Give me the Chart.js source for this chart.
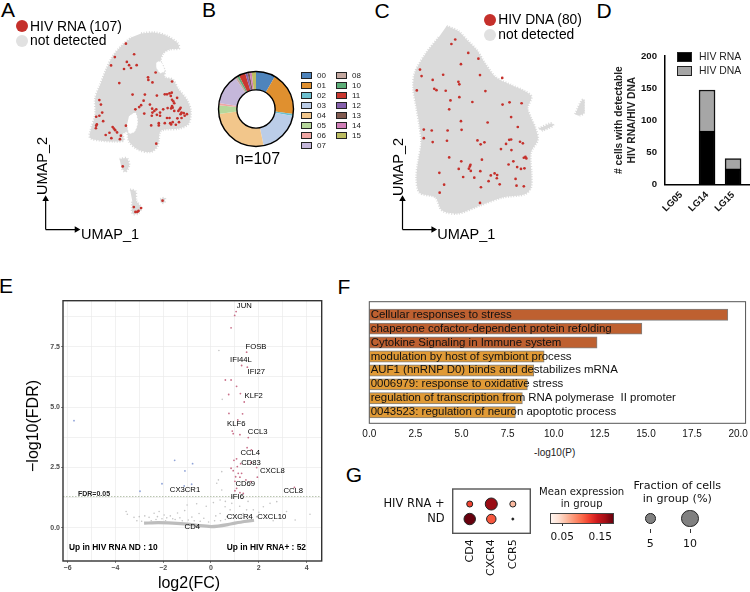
<!DOCTYPE html>
<html>
<head>
<meta charset="utf-8">
<title>HIV RNA / HIV DNA figure</title>
<script src="https://cdn.jsdelivr.net/npm/chart.js@4/dist/chart.umd.js"></script>
<style>
  html, body { margin: 0; padding: 0; background: #fff; }
  #page { position: relative; width: 750px; height: 592px; overflow: hidden; font-family: "Liberation Sans", Arial, sans-serif; color: #000; }
  canvas { position: absolute; }
  .t { position: absolute; white-space: pre; line-height: 1; }
  .box { position: absolute; box-sizing: border-box; }
</style>
</head>
<body>
<div id="page"></div>
<script>
// ---------- Panel A: UMAP (reading units, 3 per px) ----------
const cloudA = [[430,88],[470,85],[510,95],[545,118],[550,135],[520,138],[500,150],[492,175],[505,205],[505,225],[530,232],[548,262],[575,295],[587,330],[580,370],[550,385],[505,388],[490,395],[482,440],[460,458],[420,450],[392,425],[385,395],[372,402],[375,422],[345,425],[300,422],[270,415],[268,400],[285,340],[285,290],[300,250],[320,200],[340,160],[370,125],[400,100]];
const holesA = [[[478,178],[492,175],[505,205],[490,212],[478,195]], [[392,345],[412,335],[420,365],[410,395],[392,400],[385,375]]];
const islandsA = [[[362,480],[385,478],[392,500],[380,520],[368,508]], [[395,575],[412,580],[415,610],[430,632],[420,650],[403,650],[402,610]], [[490,605],[505,602],[503,616],[492,616]]];
const rnaCells = [[382,120],[408,153],[347,162],[335,188],[385,177],[376,199],[392,187],[398,196],[416,187],[476,210],[452,225],[453,233],[466,241],[361,243],[528,238],[403,279],[442,279],[298,296],[303,310],[307,335],[298,345],[288,348],[310,362],[290,372],[288,376],[287,384],[340,380],[344,385],[348,390],[382,376],[330,398],[318,405],[336,415],[354,397],[366,407],[363,418],[478,432],[372,503],[407,630],[430,633],[412,645],[418,645],[422,642],[498,610],[512,278],[520,275],[527,273],[480,282],[524,283],[528,295],[544,289],[532,300],[535,306],[528,315],[525,322],[514,321],[530,320],[555,320],[552,325],[548,330],[558,335],[565,337],[575,340],[555,340],[545,353],[558,352],[520,352],[512,352],[530,365],[525,372],[540,373],[505,368],[486,368],[486,375],[462,375],[500,325],[478,325],[465,323],[466,335],[490,335],[480,342],[490,345],[464,345],[438,298],[430,312],[424,318],[412,325],[440,338],[458,310],[505,278],[535,330],[568,345],[522,368],[550,365],[472,330]];

// ---------- Panel B: clusters ----------
const clusterNames = ["00","01","02","03","04","05","06","07","08","10","11","12","13","14","15"];
const clusterCounts = [9,20,1,20,28,4,1,14,1,1,3,1,1,1,2];
const clusterColors = ["#4E84BC","#E0902F","#6CBFCF","#BBCDE8","#F2C68B","#B6D79B","#EFA6A3","#C5B7DA","#C4A8A0","#5DAE78","#C9372F","#8560AC","#825B50","#D07FB8","#BDBD62"];

// ---------- Panel C: UMAP ----------
const cloudC = [[225,65],[260,80],[290,110],[320,140],[345,180],[380,225],[430,250],[470,268],[492,285],[480,320],[490,350],[505,385],[512,420],[490,460],[492,530],[490,570],[470,590],[400,600],[330,625],[260,650],[210,640],[190,600],[140,585],[130,540],[135,490],[145,430],[140,380],[130,320],[120,260],[125,210],[160,150],[200,100]];
const islandsC = [[[515,385],[555,368],[560,376],[525,392]], [[630,340],[650,298],[660,295],[660,335],[640,345]]];
const dnaCells = [[252,107],[240,121],[293,149],[325,167],[270,184],[141,201],[146,221],[214,217],[330,218],[400,227],[181,233],[262,239],[265,247],[131,266],[186,261],[193,265],[222,267],[347,268],[237,297],[265,287],[306,302],[401,310],[423,303],[461,306],[233,325],[428,349],[270,362],[354,366],[449,380],[153,388],[178,391],[228,391],[272,389],[153,415],[181,427],[226,423],[322,422],[332,434],[344,428],[422,420],[428,419],[412,433],[456,426],[465,431],[396,449],[429,452],[233,475],[271,487],[336,482],[468,476],[473,473],[476,478],[435,487],[420,497],[447,505],[459,511],[470,509],[300,498],[298,503],[295,510],[301,517],[263,511],[331,518],[202,523],[376,525],[364,531],[384,530],[277,536],[312,538],[357,549],[383,540],[442,542],[217,560],[392,559],[445,563],[468,565],[333,568],[203,585],[330,617]];

// ---------- Panel D: counts per donor ----------
const donors = ["LG05","LG14","LG15"];
const hivRnaCounts = [0,83,24];
const hivDnaCounts = [0,64,16];
const donorTicks = [0,50,100,150,200];

// ---------- Panel E: volcano ----------
const upGenes = [[1.05,8.95],[0.99,8.79],[0.84,8.28],[1.49,7.27],[1.28,6.72],[1.52,6.65],[0.60,6.12],[0.84,6.12],[1.07,5.86],[1.23,5.56],[0.74,5.52],[1.39,5.21],[0.75,4.74],[1.32,4.72],[1.12,4.47],[0.89,4.01],[0.93,3.90],[1.21,3.86],[1.56,3.74],[1.51,3.32],[1.69,3.23],[0.96,2.80],[1.07,2.86],[1.24,2.66],[1.67,2.70],[1.91,2.50],[0.84,2.47],[0.93,2.37],[1.10,2.54],[1.14,2.26],[1.28,2.26],[1.03,2.12],[1.21,2.10],[1.46,1.99],[1.67,1.92],[1.94,2.10],[1.00,1.93],[1.07,1.64],[1.00,1.54],[1.21,1.46],[1.35,1.43],[3.49,1.68]];
const downGenes = [[-5.73,4.44],[-2.97,1.52],[-2.05,1.83],[-1.52,2.80],[-0.77,2.66],[-1.09,2.36],[-1.12,1.74],[-0.81,1.81]];
const otherGenes = [[0.33,7.34],[0.47,5.32],[0.45,2.33],[0.31,1.99],[0.24,1.85],[0.45,1.57],[0.38,1.16],[0.59,0.88],[0.38,0.6],[0.80,0.75],[0.87,1.02],[1.49,0.75],[1.77,0.75],[2.19,0.88],[2.47,1.02],[2.75,1.09],[2.89,0.54],[3.52,0.33],[4.14,0.57],[3.16,0.68],[1.91,0.47],[1.35,0.6],[1.07,0.4],[0.66,0.47],[-3.55,0.68],[-3.50,0.57],[-3.22,0.44],[-3.00,0.47],[-2.77,0.5],[-2.59,0.44],[-2.38,0.61],[-2.17,0.68],[-2.24,0.47],[-1.96,0.54],[-1.7,0.5],[-1.4,0.62],[-1.1,0.72],[-0.8,0.45],[-0.5,0.6],[-0.2,0.9],[0.1,1.05],[-0.6,1.0],[-1.0,0.95],[-1.9,0.3],[-3.1,0.3],[-2.9,0.28],[0.2,0.5],[0.6,1.1],[1.55,1.1],[2.3,0.4],[2.6,0.3],[1.2,0.9],[0.9,0.55],[-1.5,0.35],[-0.3,0.4],[0.4,0.3],[-2.5,0.3],[-2.3,0.35],[-2.05,0.38],[-1.85,0.42],[-1.6,0.38],[-1.3,0.42],[-1.2,0.3],[-0.95,0.33],[-0.7,0.3],[-0.45,0.28],[-0.1,0.25],[0.15,0.3],[0.6,0.35],[0.95,0.42],[1.25,0.45],[1.6,0.5],[2.0,0.65]];
const nullBand = [[-2.8,0.2],[-2.2,0.22],[-1.6,0.2],[-1.0,0.16],[-0.5,0.1],[0,0.06],[0.3,0.08],[0.7,0.14],[1.0,0.2],[1.4,0.27],[1.8,0.32]];
const fdrCutoff = 1.3;
const volcanoXTicks = [-6,-5,-4,-3,-2,-1,0,1,2,3,4];
const volcanoYTicks = [0,1.25,2.5,3.75,5,6.25,7.5,8.75];

// ---------- Panel F: enrichment ----------
const termNames = ["Cellular responses to stress","chaperone cofactor-dependent protein refolding","Cytokine Signaling in Immune system","modulation by host of symbiont process","AUF1 (hnRNP D0) binds and destabilizes mRNA","0006979: response to oxidative stress","regulation of transcription from RNA polymerase  II promoter","0043523: regulation of neuron apoptotic process"];
const termLogP = [19.44,14.78,12.35,9.48,8.92,8.57,8.30,7.92];
const termColors = ["#BE6030","#BE6030","#BE6030","#E09A36","#E09A36","#E09A36","#E09A36","#E09A36"];
const logPTicks = [0,2.5,5,7.5,10,12.5,15,17.5,20];

// ---------- Panel G: dot plot ----------
const dotGenes = ["CD4","CXCR4","CCR5"];
const dotGroups = ["HIV RNA +","ND"];
const meanExpression = [[0.118,0.167,0.06],[0.184,0.11,0.018]];
const cellFraction = [[2.3,6.0,2.3],[5.6,4.3,0.5]];
const redsStops = [[255,245,240],[254,224,210],[252,187,161],[252,146,114],[251,106,74],[239,59,44],[203,24,29],[165,15,21],[103,0,13]];

// ---------- Helpers ----------
const page = document.getElementById("page");

function txt(str, x, y, o) {
  o = o || {};
  const d = document.createElement("div");
  d.className = "t";
  d.textContent = str;
  d.style.left = x + "px";
  d.style.top = y + "px";
  d.style.fontSize = (o.size || 10) + "px";
  if (o.bold) d.style.fontWeight = "bold";
  if (o.color) d.style.color = o.color;
  if (o.font) d.style.fontFamily = o.font;
  const ax = o.anchor === "l" ? "0" : o.anchor === "r" ? "-100%" : "-50%";
  d.style.transform = "translate(" + ax + ",-50%)" + (o.rot ? " rotate(" + o.rot + "deg)" : "");
  page.appendChild(d);
  return d;
}

function box(x, y, w, h, css) {
  const d = document.createElement("div");
  d.className = "box";
  d.style.cssText = "left:" + x + "px;top:" + y + "px;width:" + w + "px;height:" + h + "px;" + css;
  page.appendChild(d);
  return d;
}

function addCanvas(x, y, w, h) {
  const c = document.createElement("canvas");
  c.width = w;
  c.height = h;
  c.style.left = x + "px";
  c.style.top = y + "px";
  c.style.width = w + "px";
  c.style.height = h + "px";
  page.appendChild(c);
  return c;
}

const toXY = p => ({ x: p[0], y: p[1] });

// Frame around the plot area
const framePlugin = {
  id: "frame",
  afterDraw(chart, args, opts) {
    const a = chart.chartArea, ctx = chart.ctx;
    ctx.save();
    ctx.strokeStyle = opts.color;
    ctx.lineWidth = opts.width;
    ctx.strokeRect(a.left, a.top, a.right - a.left, a.bottom - a.top);
    ctx.restore();
  }
};

// Black ring on the outer and inner edge of the doughnut
const ringPlugin = {
  id: "ring",
  afterDatasetsDraw(chart) {
    const arc = chart.getDatasetMeta(0).data[0], ctx = chart.ctx;
    ctx.save();
    ctx.strokeStyle = "#000";
    ctx.lineWidth = 1.4;
    [arc.outerRadius, arc.innerRadius].forEach(r => {
      ctx.beginPath();
      ctx.arc(arc.x, arc.y, r, 0, Math.PI * 2);
      ctx.stroke();
    });
    ctx.restore();
  }
};

// Dashed wide border gives the cloud its loose, dotty edge
function cloudSet(poly, order) {
  return { type: "scatter", data: poly.map(toXY), showLine: true, fill: "shape", backgroundColor: "#DADADA", borderColor: "#DADADA", borderWidth: 2.5, borderDash: [1, 1.6], pointRadius: 0, order: order, tension: 0.3 };
}
function holeSet(poly, order) {
  return { type: "scatter", data: poly.map(toXY), showLine: true, fill: "shape", backgroundColor: "#fff", borderColor: "#DADADA", borderWidth: 1, borderDash: [1, 2], pointRadius: 0, order: order, tension: 0.3 };
}

// UMAP panel: canvas is 3 reading units per px, axes hidden
function umapChart(x, y, w, h, mainCloud, holes, islands, cells, arrowX, arrowTip) {
  const sets = [{ type: "scatter", data: cells.map(toXY), backgroundColor: "#C5302B", borderWidth: 0, pointRadius: 1.35, order: 0 }];
  holes.forEach(p => sets.push(holeSet(p, 2)));
  sets.push(cloudSet(mainCloud, 3));
  islands.forEach(p => sets.push(cloudSet(p, 3)));
  // axis arrows
  sets.push({ type: "scatter", data: [{ x: arrowX, y: 700 }, { x: arrowX, y: 605 }], showLine: true, borderColor: "#000", borderWidth: 1.2, backgroundColor: "#000", pointStyle: "triangle", pointRadius: [0, 2.6], order: 1 });
  sets.push({ type: "scatter", data: [{ x: arrowX, y: 700 }, { x: arrowTip, y: 700 }], showLine: true, borderColor: "#000", borderWidth: 1.2, backgroundColor: "#000", pointStyle: "triangle", rotation: 90, pointRadius: [0, 2.6], order: 1 });
  return new Chart(addCanvas(x, y, w, h), {
    type: "scatter",
    data: { datasets: sets },
    options: {
      responsive: false, animation: false, layout: { padding: 0 },
      plugins: { legend: { display: false }, tooltip: { enabled: false } },
      scales: {
        x: { display: false, type: "linear", min: 0, max: w * 3 },
        y: { display: false, type: "linear", min: 0, max: h * 3, reverse: true }
      }
    }
  });
}

// ---------- Panel letters ----------
[["A",8,9],["B",209,9],["C",382,10],["D",604,10],["E",6,285],["F",344,286],["G",354,474]].forEach(l => txt(l[0], l[1], l[2], { size: 21 }));

// ---------- A ----------
umapChart(0, 0, 200, 270, cloudA, holesA, islandsA, rnaCells, 128, 226);
box(16, 20, 12, 12, "background:#C5302B;border-radius:50%;");
box(16, 35, 12, 12, "background:#E1E1E1;border-radius:50%;");
txt("HIV RNA (107)", 30, 27, { size: 13.9, anchor: "l" });
txt("not detected", 30, 41, { size: 13.9, anchor: "l" });
txt("UMAP_1", 110, 233.5, { size: 14.5 });
txt("UMAP_2", 41.7, 166, { size: 14.5, rot: -90 });

// ---------- B ----------
new Chart(addCanvas(210, 62, 92, 94), {
  type: "doughnut",
  data: { labels: clusterNames, datasets: [{ data: clusterCounts, backgroundColor: clusterColors, borderWidth: 0 }] },
  options: {
    responsive: false, animation: false, cutout: "51%",
    layout: { padding: { left: 8.5, right: 8.5, top: 9.5, bottom: 9.5 } },
    plugins: { legend: { display: false }, tooltip: { enabled: false } }
  },
  plugins: [ringPlugin]
});
clusterNames.forEach((name, i) => {
  const col = i < 8 ? 0 : 1, row = i < 8 ? i : i - 8;
  const sx = col === 0 ? 301 : 336, ty = 75.7 + row * 10;
  box(sx, ty - 3.5, 11, 7, "background:" + clusterColors[i] + ";border:1px solid #222;");
  txt(name, sx + 16, ty, { size: 8, anchor: "l", color: "#222" });
});
txt("n=107", 257.7, 158.7, { size: 16 });

// ---------- C ----------
umapChart(370, 0, 220, 270, cloudC, [], islandsC, dnaCells, 86, 183);
box(484, 14, 12, 12, "background:#C5302B;border-radius:50%;");
box(484, 28.5, 12, 12, "background:#E1E1E1;border-radius:50%;");
txt("HIV DNA (80)", 498.3, 20, { size: 13.8, anchor: "l" });
txt("not detected", 498.3, 34.5, { size: 13.8, anchor: "l" });
txt("UMAP_1", 466.3, 233.5, { size: 14.5 });
txt("UMAP_2", 398.3, 167, { size: 14.5, rot: -90 });

// ---------- D ----------
new Chart(addCanvas(610, 45, 140, 175), {
  type: "bar",
  data: {
    datasets: [
      { data: hivRnaCounts.map((v, i) => ({ x: i, y: v })), backgroundColor: "#000", borderColor: "#000", borderWidth: 1.5, barThickness: 16 },
      { data: hivDnaCounts.map((v, i) => ({ x: i, y: v })), backgroundColor: "#A6A6A6", borderColor: "#111", borderWidth: 1.5, barThickness: 16 }
    ]
  },
  options: {
    responsive: false, animation: false,
    layout: { padding: { top: 11 } },
    plugins: { legend: { display: false }, tooltip: { enabled: false } },
    scales: {
      x: {
        type: "linear", offset: false, stacked: true, min: -0.615, max: 2.65,
        afterBuildTicks: s => { s.ticks = donors.map((d, i) => ({ value: i })); },
        afterFit: s => { s.height = 35.7; },
        grid: { display: false, drawTicks: true, tickLength: 5, tickColor: "#000" },
        border: { color: "#000", width: 1.5 },
        ticks: { autoSkip: false, minRotation: 45, maxRotation: 45, padding: 0, color: "#111", font: { family: "Liberation Sans", size: 9.5, weight: "bold" }, callback: v => donors[v] }
      },
      y: {
        stacked: true, min: 0, max: 200,
        afterBuildTicks: s => { s.ticks = donorTicks.map(v => ({ value: v })); },
        afterFit: s => { s.width = 55; },
        grid: { display: false, drawTicks: true, tickLength: 7, tickColor: "#000" },
        border: { color: "#000", width: 1.5 },
        ticks: { padding: 1, color: "#111", font: { family: "Liberation Sans", size: 9.6, weight: "bold" } },
        title: { display: true, text: ["# cells with detectable", "HIV RNA/HIV DNA"], color: "#222", padding: { top: 3, bottom: 0 }, font: { family: "Liberation Sans", size: 10.2, weight: "bold", lineHeight: 1.25 } }
      }
    }
  }
});
box(677, 52, 15, 10, "background:#000;border:1px solid #222;");
box(677, 66, 15, 9.5, "background:#A6A6A6;border:1px solid #222;");
txt("HIV RNA", 699, 57, { size: 10.4, anchor: "l", color: "#222" });
txt("HIV DNA", 699, 70.5, { size: 10.4, anchor: "l", color: "#222" });

// ---------- E ----------
const gridGrey = "#EBEBEB";
new Chart(addCanvas(0, 290, 330, 302), {
  type: "scatter",
  data: {
    datasets: [
      { data: upGenes.map(toXY), backgroundColor: "#C9708A", borderWidth: 0, pointRadius: 0.9, order: 0 },
      { data: downGenes.map(toXY), backgroundColor: "#8FA3D8", borderWidth: 0, pointRadius: 0.9, order: 0 },
      { data: otherGenes.map(toXY), backgroundColor: "#C4C4C4", borderWidth: 0, pointRadius: 0.8, order: 1 },
      { data: nullBand.map(toXY), showLine: true, borderColor: "#BDBDBD", borderWidth: 3.2, pointRadius: 0, tension: 0.3, order: 2 },
      { data: [{ x: -6.19, y: fdrCutoff }, { x: 4.63, y: fdrCutoff }], showLine: true, borderColor: "#B7C4AE", borderWidth: 1, borderDash: [1.5, 1.5], pointRadius: 0, order: 1 }
    ]
  },
  options: {
    responsive: false, animation: false,
    layout: { padding: { top: 10.7, right: 8.3 } },
    plugins: { legend: { display: false }, tooltip: { enabled: false }, frame: { color: "#333", width: 1.4 } },
    scales: {
      x: {
        type: "linear", min: -6.19, max: 4.63,
        afterBuildTicks: s => { s.ticks = volcanoXTicks.map(v => ({ value: v })); },
        afterFit: s => { s.height = 31; },
        grid: { color: gridGrey, lineWidth: 0.7, tickLength: 2, tickColor: c => c.tick && c.tick.value % 2 === 0 ? "#555" : "transparent" },
        border: { display: false },
        ticks: { padding: 1, color: "#4D4D4D", font: { family: "Liberation Sans", size: 7, weight: "bold" }, callback: v => v % 2 === 0 ? String(v).replace("-", "\u2212") : "" }
      },
      y: {
        min: -1.365, max: 9.4,
        afterBuildTicks: s => { s.ticks = volcanoYTicks.map(v => ({ value: v })); },
        afterFit: s => { s.width = 63; },
        grid: { color: gridGrey, lineWidth: 0.7, tickLength: 2, tickColor: c => c.tick && c.tick.value % 2.5 === 0 ? "#555" : "transparent" },
        border: { display: false },
        ticks: { padding: 1, color: "#4D4D4D", font: { family: "Liberation Sans", size: 7, weight: "bold" }, callback: v => v % 2.5 === 0 ? v.toFixed(1) : "" }
      }
    }
  },
  plugins: [framePlugin]
});
[["JUN",244.3,305.7],["FOSB",256,346.7],["IFI44L",241,359.7],["IFI27",256.3,371.7],["KLF2",253.7,395.7],["KLF6",236.3,424],["CCL3",257.7,432],["CCL4",250.3,452.7],["CD83",251,463.3],["CXCL8",272.3,471],["CD69",245.3,484],["CX3CR1",185,490],["CCL8",293.3,491.3],["IFI6",237.3,496.7],["CXCR4",239.7,517],["CXCL10",271.7,517],["CD4",192.3,527]].forEach(g => txt(g[0], g[1], g[2], { size: 7.7 }));
txt("FDR=0.05", 94, 493.3, { size: 7, bold: true, color: "#222" });
txt("Up in HIV RNA ND : 10", 69, 547.3, { size: 8.4, bold: true, anchor: "l" });
txt("Up in HIV RNA+ : 52", 226.7, 547.3, { size: 8.4, bold: true, anchor: "l" });
txt("\u2212log10(FDR)", 32.7, 425.7, { size: 16, rot: -90 });
txt("log2(FC)", 189, 582.7, { size: 16 });

// ---------- F ----------
const enrichChart = new Chart(addCanvas(340, 295, 410, 150), {
  type: "bar",
  data: {
    datasets: [{
      data: termLogP.map((v, i) => ({ x: v, y: i })),
      backgroundColor: termColors, borderColor: "#808080", borderWidth: 1, barThickness: 11.3
    }]
  },
  options: {
    indexAxis: "y", responsive: false, animation: false,
    layout: { padding: { left: 29.3, top: 6.7, right: 4 } },
    plugins: { legend: { display: false }, tooltip: { enabled: false }, frame: { color: "#555", width: 1 } },
    scales: {
      x: {
        type: "linear", min: 0, max: 20.4,
        afterBuildTicks: s => { s.ticks = logPTicks.map(v => ({ value: v })); },
        afterFit: s => { s.height = 21.7; },
        grid: { display: false, drawTicks: true, tickLength: 3, tickColor: "#333" },
        border: { display: false },
        ticks: { padding: 2, color: "#111", font: { family: "Liberation Sans", size: 10 }, callback: v => v.toFixed(1) }
      },
      y: { type: "linear", offset: false, display: false, reverse: true, min: -0.93, max: 7.79 }
    }
  },
  plugins: [framePlugin]
});
termNames.forEach((name, i) => {
  const y = 295 + enrichChart.scales.y.getPixelForValue(i);
  txt(name, 370.7, y, { size: 11.45, anchor: "l", color: "#111" });
});
txt("-log10(P)", 554.7, 452.7, { size: 10, color: "#222" });

// ---------- G ----------
const dejavu = '"DejaVu Sans", sans-serif';
function redsColor(v) {
  const t = Math.max(0, Math.min(1, (v - 0.018) / (0.184 - 0.018))) * (redsStops.length - 1);
  const i = Math.min(Math.floor(t), redsStops.length - 2), f = t - i;
  const c = redsStops[i].map((a, k) => Math.round(a + (redsStops[i + 1][k] - a) * f));
  return "rgb(" + c.join(",") + ")";
}
const fractionRadius = f => 8.7 * Math.pow(f / 10, 0.72);
const dotData = [], dotFill = [];
dotGroups.forEach((g, row) => dotGenes.forEach((n, col) => {
  dotData.push({ x: col, y: row, r: fractionRadius(cellFraction[row][col]) });
  dotFill.push(meanExpression[row][col] <= 0.018 ? "#000" : redsColor(meanExpression[row][col]));
}));
new Chart(addCanvas(350, 470, 190, 122), {
  type: "bubble",
  data: { datasets: [{ data: dotData, backgroundColor: dotFill, borderColor: "#222", borderWidth: 1 }] },
  options: {
    responsive: false, animation: false,
    layout: { padding: { top: 19, right: 9.7 } },
    plugins: { legend: { display: false }, tooltip: { enabled: false }, frame: { color: "#555", width: 1.4 } },
    scales: {
      x: {
        type: "linear", min: -0.79, max: 2.81,
        afterBuildTicks: s => { s.ticks = dotGenes.map((g, i) => ({ value: i })); },
        afterFit: s => { s.height = 58.7; },
        grid: { display: false, drawTicks: true, tickLength: 4, tickColor: "#333" },
        border: { display: false },
        ticks: { autoSkip: false, minRotation: 90, maxRotation: 90, padding: 2, color: "#111", font: { family: "DejaVu Sans", size: 11 }, callback: v => dotGenes[v] }
      },
      y: {
        type: "linear", reverse: true, min: -1, max: 1.95,
        afterBuildTicks: s => { s.ticks = dotGroups.map((g, i) => ({ value: i })); },
        afterFit: s => { s.width = 102.7; },
        grid: { display: false, drawTicks: true, tickLength: 4, tickColor: "#333" },
        border: { display: false },
        ticks: { padding: 4, color: "#111", font: { family: "DejaVu Sans", size: 11.5 }, callback: v => dotGroups[v] }
      }
    }
  },
  plugins: [framePlugin]
});
txt("Mean expression", 581.7, 492, { size: 10.1, font: dejavu, color: "#111" });
txt("in group", 581.7, 504, { size: 10.1, font: dejavu, color: "#111" });
box(550, 513.3, 63.5, 10.8, "background:linear-gradient(to right," + redsStops.map(c => "rgb(" + c.join(",") + ")").join(",") + ");border:1px solid #444;");
box(562, 524, 1, 2, "background:#333;");
box(600, 524, 1, 2, "background:#333;");
txt("0.05", 562.3, 536, { size: 10.5, font: dejavu, color: "#111" });
txt("0.15", 600.3, 536, { size: 10.5, font: dejavu, color: "#111" });
txt("Fraction of cells", 677.3, 485.7, { size: 11.2, font: dejavu, color: "#111" });
txt("in group (%)", 677.3, 499.3, { size: 11.2, font: dejavu, color: "#111" });
box(645, 513, 10.6, 10.6, "background:#808080;border:1px solid #222;border-radius:50%;");
box(681.3, 509.6, 17.4, 17.4, "background:#808080;border:1px solid #222;border-radius:50%;");
box(650, 529, 1, 4, "background:#333;");
box(690, 529, 1, 4, "background:#333;");
txt("5", 650.3, 542.7, { size: 11, font: dejavu, color: "#111" });
txt("10", 690, 542.7, { size: 11, font: dejavu, color: "#111" });
</script>
</body>
</html>
